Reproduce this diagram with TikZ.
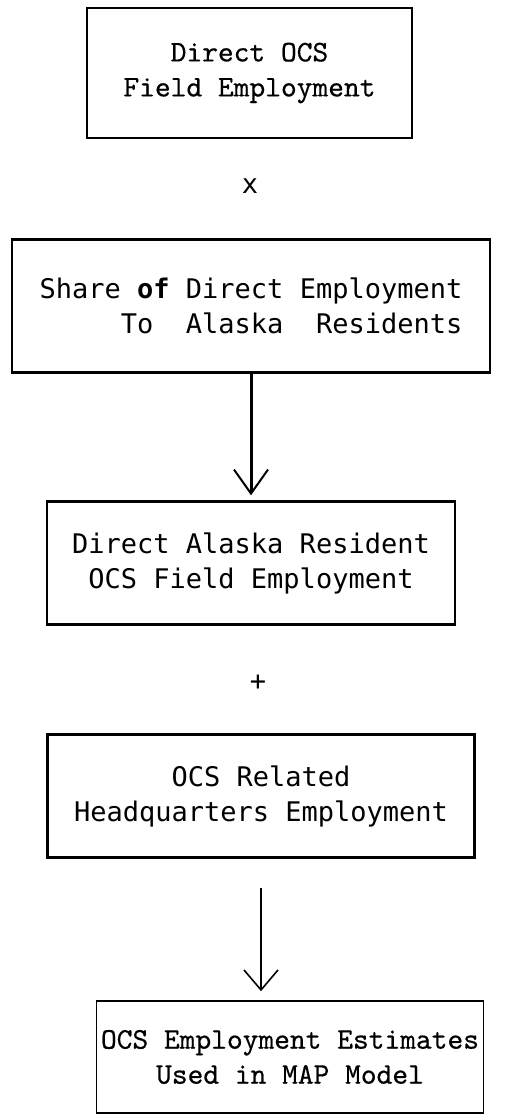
\documentclass[tikz,border=0pt]{standalone}
\usepackage{fontspec}
\usetikzlibrary{arrows.meta}
\newfontfamily\monosans{DejaVu Sans Mono}
\newfontfamily\typewriter[FakeBold=0.5]{lmmono10-regular.otf}

\tikzset{
  box/.style={draw, line width=2.4pt, inner sep=0pt},
  sbox/.style={box, font=\monosans\fontsize{27}{35}\selectfont},
  tbox/.style={draw, line width=1.6pt, inner sep=0pt, align=center,
    font=\typewriter\fontsize{30}{35}\selectfont},
  sign/.style={font=\monosans\fontsize{27}{27}\selectfont},
  flow/.style={-{Straight Barb[length=24pt,width=34pt,line width=2pt]}, line width=3pt},
  thinflow/.style={-{Straight Barb[length=20pt,width=34pt,line width=1.6pt]}, line width=1.2pt}
}

\begin{document}
\begin{tikzpicture}[x=1pt,y=-1pt]
\useasboundingbox (0,0) rectangle (512,1119);
% boxes, top to bottom
\node[tbox, minimum width=325, minimum height=130] (field) at (249.5,73)
  {Direct OCS\\Field Employment};
\node[sign] (times) at (250,186) {x};
\node[sbox, align=right, minimum width=478, minimum height=133] (share) at (251,306)
  {Share \textbf{of} Direct Employment\\To~~Alaska~~Residents};
\node[sbox, align=center, minimum width=408, minimum height=123] (resident) at (251,563)
  {Direct Alaska Resident\\OCS Field Employment};
\node[sign] (plus) at (258,683) {+};
\node[sbox, align=center, minimum width=427, minimum height=123] (hq) at (261,796)
  {OCS Related\\Headquarters Employment};
\node[tbox, minimum width=387, minimum height=112] (map) at (290,1057)
  {OCS Employment Estimates\\Used in MAP Model};
% arrows
\draw[flow, shorten >=5pt] (share.south) -- (resident.north);
\draw[thinflow] ([yshift=-29pt]hq.south) -- ([yshift=9pt]hq.south |- map.north);
\end{tikzpicture}
\end{document}
